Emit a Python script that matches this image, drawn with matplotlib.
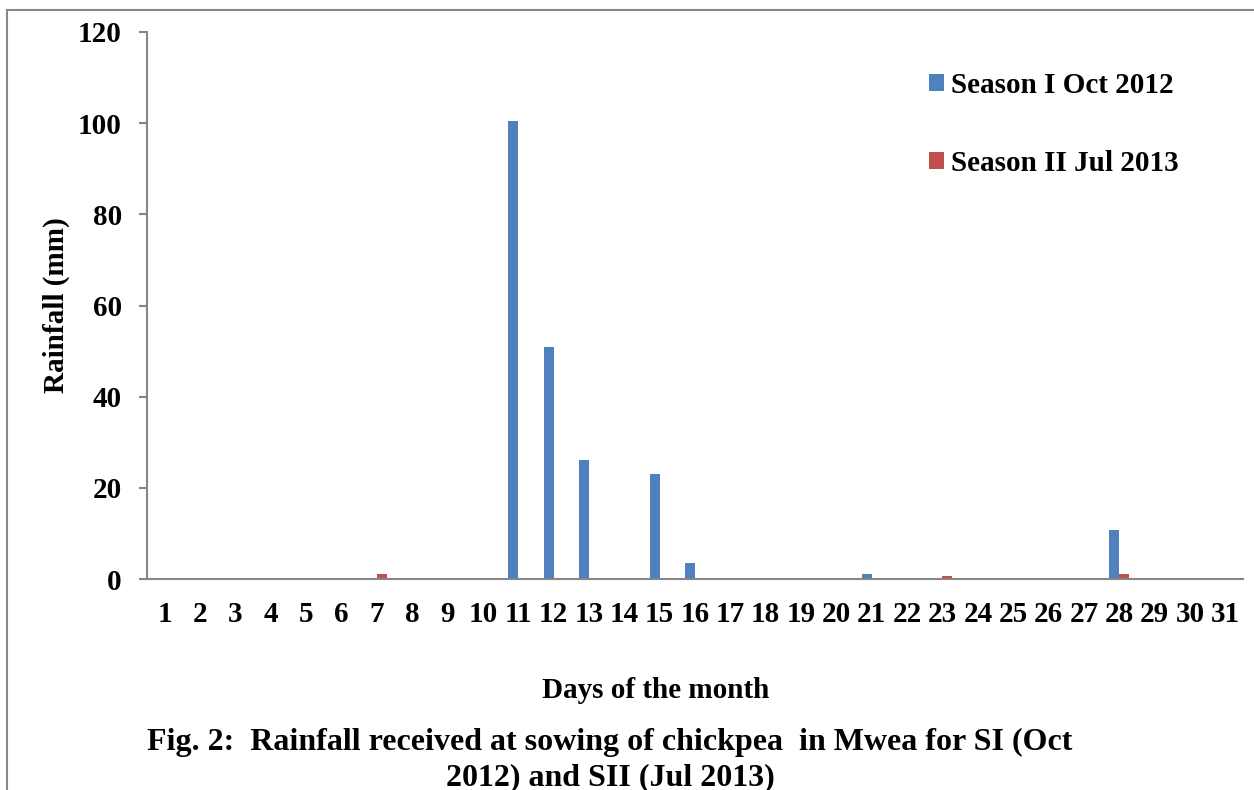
import matplotlib
matplotlib.use("Agg")
import matplotlib.pyplot as plt
import numpy as np
from matplotlib.patches import Patch, Rectangle

plt.rcParams['font.family'] = ['Liberation Serif', 'DejaVu Serif']
plt.rcParams['font.weight'] = 'bold'

# rainfall (mm) per day of month
days = list(range(1, 32))
season1 = [0, 0, 0, 0, 0, 0, 0, 0, 0, 0, 100.5, 51, 26, 0, 23, 3.5,
           0, 0, 0, 0, 1.0, 0, 0, 0, 0, 0, 0, 10.8, 0, 0, 0]
season2 = [0, 0, 0, 0, 0, 0, 1.0, 0, 0, 0, 0, 0, 0, 0, 0, 0,
           0, 0, 0, 0, 0, 0, 0.6, 0, 0, 0, 0, 1.2, 0, 0, 0]
labels = ["Season I Oct 2012", "Season II Jul 2013"]
colors = ["#4F81BD", "#C0504D"]

fig = plt.figure(figsize=(12.54, 7.9), dpi=100)
ax = fig.add_axes([147/1254, 1-579/790, 1096/1254, 547/790])

x = np.array(days)
w = 0.28
ax.bar(x - w/2, season1, width=w, color=colors[0])
ax.bar(x + w/2, season2, width=w, color=colors[1])

ax.set_xlim(0.5, 31.5)
ax.set_ylim(0, 120)
ax.set_yticks([0, 20, 40, 60, 80, 100, 120])
ax.set_xticks(days)
ax.set_xticklabels([str(d) for d in days])

for s in ['top', 'right']:
    ax.spines[s].set_visible(False)
for s in ['left', 'bottom']:
    ax.spines[s].set_color('#868686')
    ax.spines[s].set_linewidth(1.5)
ax.tick_params(axis='y', direction='out', length=6, width=1.5, color='#868686',
               pad=12, labelsize=21)
ax.tick_params(axis='x', length=0, pad=16, labelsize=21)

handles = [Patch(facecolor=c, edgecolor='none') for c in colors]
fig.legend(handles, labels, loc='upper left', bbox_to_anchor=(929/1254, 1-72/790),
           frameon=False, fontsize=21, handlelength=0.5, handleheight=0.5,
           handletextpad=0.25, labelspacing=1.75, borderpad=0, borderaxespad=0)

fig.text(56/1254, 1-305/790, "Rainfall (mm)", rotation=90, ha='center', va='center',
         fontsize=21)
fig.text(656/1254, 1-690/790, "Days of the month", ha='center', va='center', fontsize=21)
fig.text(610/1254, 1-760/790,
         "Fig. 2:  Rainfall received at sowing of chickpea  in Mwea for SI (Oct\n2012) and SII (Jul 2013)",
         ha='center', va='center', multialignment='center', fontsize=23, linespacing=1.28)

# outer chart frame
fig.patches.append(Rectangle((7/1254, -0.1), 1.2, 1 - 10/790 + 0.1,
                             transform=fig.transFigure, fill=False,
                             edgecolor='#898989', linewidth=1.5))

fig.savefig("out.png", dpi=100)
